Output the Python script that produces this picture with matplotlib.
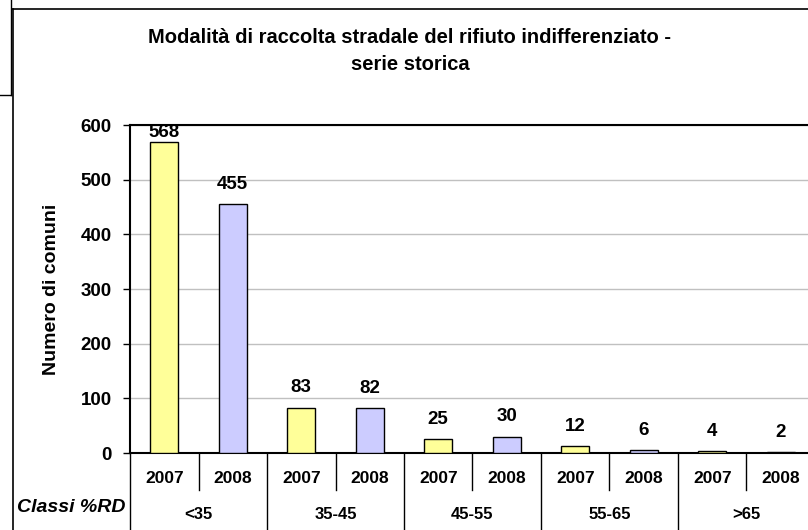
import numpy as np
import matplotlib.pyplot as plt
from matplotlib.lines import Line2D
from matplotlib.transforms import blended_transform_factory

plt.rcParams['font.family'] = ['Liberation Sans', 'DejaVu Sans']
plt.rcParams['font.weight'] = 'bold'

# data
classi = ['<35', '35-45', '45-55', '55-65', '>65']
anni = ['2007', '2008']
n_2007 = [568, 83, 25, 12, 4]
n_2008 = [455, 82, 30, 6, 2]
colori = {'2007': '#FFFF99', '2008': '#CCCCFF'}

fig = plt.figure(figsize=(8.08, 5.30), dpi=100)

# outer frame (chart area partly off the picture) and the stray box top-left
fig.add_artist(Line2D([13/808, 13/808], [0, 1 - 9/530], color='black', lw=1.2))
fig.add_artist(Line2D([13/808, 1], [1 - 9/530, 1 - 9/530], color='black', lw=1.2))
fig.add_artist(Line2D([11/808, 11/808], [1, 1 - 95/530], color='black', lw=1.0))
fig.add_artist(Line2D([0, 11/808], [1 - 95/530, 1 - 95/530], color='black', lw=1.0))

ax = fig.add_axes([130/808, 1 - 453/530, 685/808, 328/530])

vals = []
cols = []
for a, b in zip(n_2007, n_2008):
    vals += [a, b]
    cols += [colori['2007'], colori['2008']]
x = np.arange(len(vals))
ax.bar(x, vals, width=0.41, color=cols, edgecolor='black', linewidth=1.0, zorder=3)

for xi, v in zip(x, vals):
    ax.text(xi, min(v + 36, 587), str(v), ha='center', va='center',
            fontsize=13.5, fontweight='bold', zorder=4)

ax.set_xlim(-0.5, len(vals) - 0.5)
ax.set_ylim(0, 600)
ax.set_yticks(np.arange(0, 601, 100))
ax.tick_params(axis='y', labelsize=13.5, length=5, width=1, pad=8)
ax.yaxis.grid(True, color='#c0c0c0', lw=1, zorder=0)
for s in ['left', 'bottom', 'top']:
    ax.spines[s].set_linewidth(1.5)
ax.spines['right'].set_visible(False)

ax.set_xticks(x)
ax.set_xticklabels(anni * len(classi), fontsize=12.5, fontweight='bold')
ax.tick_params(axis='x', length=0, pad=13)

ax.set_ylabel('Numero di comuni', fontsize=14, fontweight='bold', labelpad=15)

# category table below the axis
tr = blended_transform_factory(ax.transData, ax.transAxes)
for i in range(len(vals) + 1):
    xs = i - 0.5
    y0 = -0.235 if i % 2 == 0 else -0.113
    ax.add_line(Line2D([xs, xs], [0, y0], transform=tr, color='black', lw=1.0, clip_on=False))
for k, c in enumerate(classi):
    ax.text(2 * k + 0.5, -0.189, c, transform=tr, ha='center', va='center',
            fontsize=12, fontweight='bold')
fig.text(71/808, 1 - 508/530, 'Classi %RD', ha='center', va='center',
         fontsize=14, fontweight='bold', style='italic')

fig.text(410/808, 1 - 51/530, 'Modalità di raccolta stradale del rifiuto indifferenziato -\nserie storica',
         ha='center', va='center', fontsize=14.5, fontweight='bold', linespacing=1.5)

fig.savefig('out.png', dpi=100)
